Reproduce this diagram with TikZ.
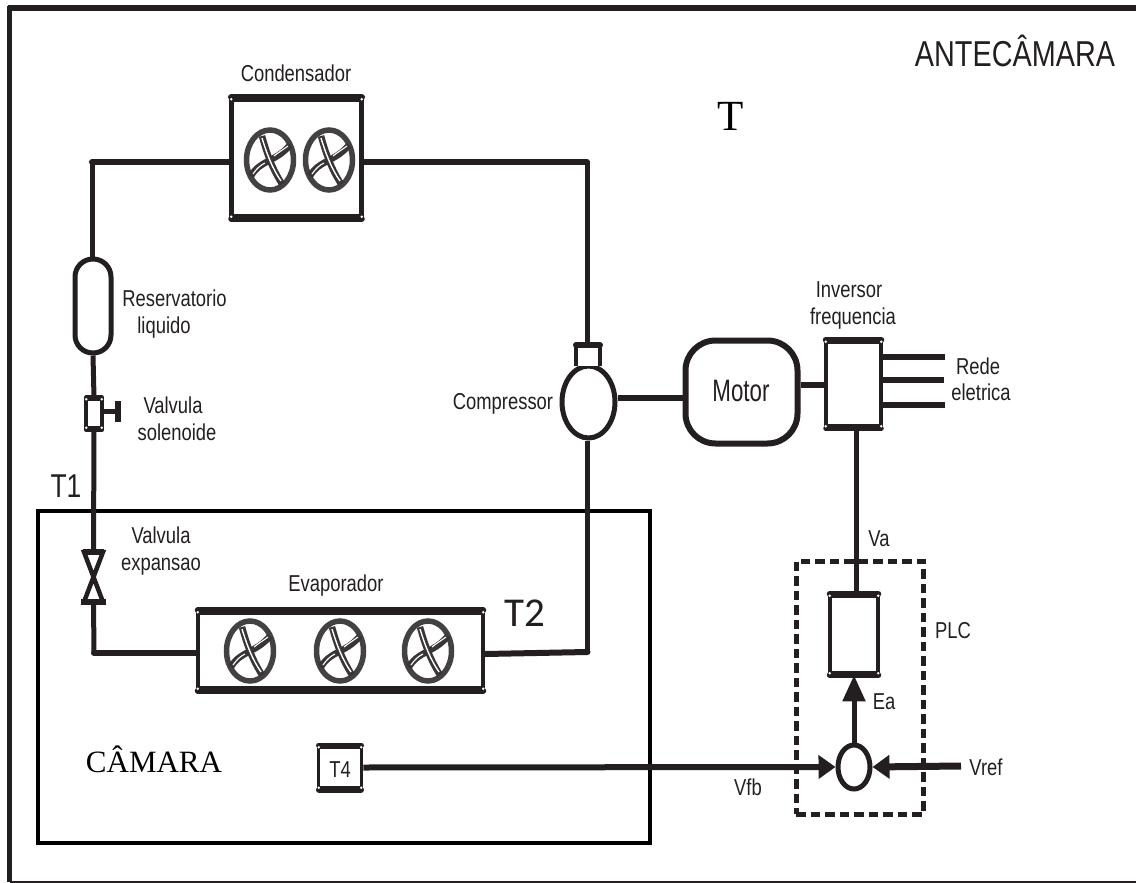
\documentclass[tikz,border=0pt]{standalone}
\usepackage{fontspec}
\setmainfont[FakeStretch=0.80]{Liberation Sans}
\newfontfamily\narrowx[FakeStretch=0.72]{Liberation Sans}
\newfontfamily\serifx{Liberation Serif}
\newfontfamily\carl{Carlito}
\usetikzlibrary{shapes.geometric,arrows.meta,calc}
\definecolor{ink}{HTML}{231F20}
\tikzset{
  pipe/.style={draw=ink,line width=5pt,line cap=butt,line join=round},
  hpipe/.style={draw=ink,line width=6pt,line cap=round},
  wire/.style={draw=ink,line width=6.5pt},
  sidebox/.style={draw=ink,line width=4.5pt,rectangle,inner sep=0pt,fill=white},
  lab/.style={text=ink,font=\fontsize{23}{25}\selectfont,inner sep=0pt,text height=16.5pt,text depth=0pt},
  ghost/.style={rectangle,inner sep=0pt,outer sep=0pt},
  fanring/.style={draw=ink!85,line width=5.5pt,ellipse,inner sep=0pt,minimum width=47pt,minimum height=60pt},
  sumtip/.style={-{Triangle[length=17pt,width=23pt]}},
  uptip/.style={-{Triangle[length=26pt,width=22pt]}}
}
\newcommand{\fanat}[3]{%
  \node[fanring] (#3) at (#1,#2) {};
  \begin{scope}[shift={(#1,#2)}]
    \draw[ink!90,line width=6.5pt] (-8,-24) .. controls (-3,-6) and (2,8) .. (12,24);
    \draw[ink!90,line width=6.5pt] (-19,16) .. controls (-10,0) and (6,2) .. (20,-15);
    \draw[white,line width=1.4pt] (-8,-22) .. controls (-3,-6) and (2,8) .. (11,21);
    \draw[white,line width=1.1pt] (4,-4) .. controls (9,-8) and (14,-11) .. (18,-14);
    \draw[white,line width=1.1pt] (-17,14) .. controls (-13,8) and (-9,5) .. (-5,3);
  \end{scope}}
\newcommand{\rails}[3]{%
  \draw[ink,line width=#2,line cap=round,shorten >=2pt,shorten <=2pt] (#1.north west) -- (#1.north east);
  \draw[ink,line width=#3,line cap=round,shorten >=2pt,shorten <=2pt] (#1.south west) -- (#1.south east);
  \fill[white] ($(#1.north west)+(2,2)$) circle (1.3pt) ($(#1.north east)+(-2,2)$) circle (1.3pt)
    ($(#1.south west)+(2,-2)$) circle (1.3pt) ($(#1.south east)+(-2,-2)$) circle (1.3pt);}
\begin{document}
\begin{tikzpicture}[x=1pt,y=-1pt]
\useasboundingbox (0,0) rectangle (1136,883);
\fill[white] (0,0) rectangle (1136,883);
% outer frame
\draw[ink,line width=4.5pt] (9.5,6) -- (9.5,882);
\draw[ink,line width=6.5pt] (8,8) -- (1136,8);
\draw[ink,line width=2pt] (9.5,882) -- (1136,882);
% chamber
\node[draw=black,line width=4.5pt,rectangle,inner sep=0pt,minimum width=612pt,minimum height=332pt] (camara) at (344,677) {};
% components
\node[sidebox,minimum width=130pt,minimum height=117pt] (cond) at (296.5,158) {};
\node[sidebox,minimum width=285pt,minimum height=76pt] (evap) at (340.5,650.5) {};
\node[rectangle,draw=ink,line width=5pt,rounded corners=17.9pt,inner sep=0pt,fill=white,minimum width=36pt,minimum height=94pt] (res) at (93,306) {};
\node[sidebox,line width=3.5pt,minimum width=16pt,minimum height=29pt] (sol) at (94,413.5) {};
\node[ghost,minimum width=19pt,minimum height=50pt] (expv) at (93.5,577) {};
\node[ellipse,draw=ink,line width=5pt,inner sep=0pt,fill=white,minimum width=53pt,minimum height=72pt] (comp) at (588.5,402) {};
\node[ghost,fill=white,minimum width=24pt,minimum height=21pt] (neck) at (588,355.5) {};
\node[draw=ink,line width=6pt,rectangle,rounded corners=30pt,inner sep=0pt,minimum width=112pt,minimum height=103pt] (motor) at (741.5,392) {};
\node[sidebox,minimum width=55pt,minimum height=84pt] (inv) at (853.5,384) {};
\node[sidebox,minimum width=48pt,minimum height=77pt] (pid) at (854,634.5) {};
\node[ellipse,draw=ink,line width=5pt,inner sep=0pt,fill=white,minimum width=32pt,minimum height=44pt] (sum) at (854,767) {};
\node[sidebox,line width=3.5pt,minimum width=43pt,minimum height=41pt] (tq) at (340,767.5) {};
\node[draw=ink,line width=5pt,dash pattern=on 9.5pt off 5pt,rectangle,inner sep=0pt,minimum width=127pt,minimum height=253pt] (plc) at (859.5,687.5) {};
% neck
\draw[ink,line width=4.5pt] (neck.south west) -- (neck.north west);
\draw[ink,line width=4.5pt] (neck.south east) -- (neck.north east);
\draw[ink,line width=6pt,line cap=round] (neck.north west) -- (neck.north east);
% rails
\rails{cond}{6.5pt}{6pt}
\rails{evap}{6pt}{6pt}
\rails{inv}{6pt}{5pt}
\rails{pid}{6pt}{6pt}
\rails{tq}{5.5pt}{5.5pt}
\rails{sol}{4.5pt}{4.5pt}
% fans
\fanat{270}{160}{fa}
\fanat{329}{160}{fb}
\fanat{250}{651}{fc}
\fanat{340}{651}{fd}
\fanat{428}{651}{fe}
% solenoid handle
\coordinate (hb) at (118,411.5);
\draw[ink,line width=5pt] (sol.east |- hb) -- (hb);
\draw[ink,line width=5.5pt] (118,401) -- (118,422);
% expansion valve
\draw[ink,line width=4.5pt,line join=miter] (expv.north west) -- (expv.south east) -- (expv.south west) -- (expv.north east) -- cycle;
\draw[ink,line width=6pt] ($(expv.north west)+(-1,0)$) -- ($(expv.north east)+(1,0)$);
\draw[ink,line width=6.5pt] ($(expv.south west)+(-3,0)$) -- ($(expv.south east)+(3,0)$);
% pipes
\coordinate (c1) at (92,162);
\coordinate (c2) at (587,162);
\coordinate (c3) at (94,653);
\coordinate (c4) at (587.5,652);
\draw[hpipe] (cond.west |- c1) -- (c1);
\draw[pipe] (c1) -- (res.north -| c1);
\draw[hpipe] (cond.east |- c2) -- (c2);
\draw[pipe] (c2) -- (neck.north -| c2);
\draw[pipe] (res.south) -- (sol.north);
\draw[pipe] (sol.south) -- (expv.north);
\draw[pipe] (expv.south) -- (c3);
\draw[hpipe] (c3) -- (evap.west |- c3);
\draw[hpipe] (evap.east |- 484,654) -- (c4);
\draw[pipe] (c4) -- (comp.south -| c4);
\coordinate (s1) at (650,398);
\draw[wire] (comp.east |- s1) -- (motor.west |- s1);
\coordinate (s2) at (810,385);
\draw[line width=5.5pt,draw=ink] (motor.east |- s2) -- (inv.west |- s2);
% mains
\coordinate (r1) at (945,357);
\coordinate (r2) at (944,380);
\coordinate (r3) at (945,405);
\draw[wire] (inv.east |- r1) -- (r1);
\draw[wire] (inv.east |- r2) -- (r2);
\draw[wire] (inv.east |- r3) -- (r3);
% control
\draw[pipe] (inv.south -| 856,0) -- (pid.north -| 856,0);
\draw[ink,line width=5pt,uptip] (sum.north) -- (pid.south);
\draw[ink,line width=6pt,sumtip] (tq.east) -- (sum.west);
\coordinate (vr) at (961,766);
\draw[ink,line width=7pt,sumtip] (vr) -- (sum.east);
% labels
\node[lab] (tcond) at (296,73) {Condensador};
\node[lab] (tres) at (174.5,298) {Reservatorio};
\node[lab] (tres2) at (164,325) {liquido};
\node[lab] (tsol) at (173,405) {Valvula};
\node[lab] (tsol2) at (177,432) {solenoide};
\node[lab] (texp) at (161,535) {Valvula};
\node[lab] (texp2) at (161,562) {expansao};
\node[lab] (tevap) at (336,583) {Evaporador};
\node[lab] (tcomp) at (503,401) {Compressor};
\node[lab] (tinv) at (849,289) {Inversor};
\node[lab] (tinv2) at (853,316) {frequencia};
\node[lab] (trede) at (978,366) {Rede};
\node[lab] (trede2) at (981,392) {eletrica};
\node[lab] (tva) at (879,538) {Va};
\node[lab] (tplc) at (953,630) {PLC};
\node[lab] (tea) at (884,701) {Ea};
\node[lab] (tvfb) at (748,787) {Vfb};
\node[lab] (tvref) at (986,767) {Vref};
\node[lab] (tfour) at (340,769) {T4};
\node[lab,font=\narrowx\fontsize{31}{33}\selectfont,text height=22pt] (tmotor) at (741,390) {Motor};
\node[lab,font=\fontsize{36}{38}\selectfont,text height=25.5pt] (tante) at (1015,54) {ANTECÂMARA};
\node[lab,font=\fontsize{33}{35}\selectfont,text height=23.5pt] (tt1) at (66,486) {T1};
\node[lab,font=\carl\fontsize{41}{43}\selectfont,text height=26.5pt] (tt2) at (525,613.5) {T2};
\node[lab,font=\serifx\fontsize{43}{45}\selectfont,text=black,text height=28pt] (tt) at (731,116) {T};
\node[lab,font=\serifx\fontsize{31}{33}\selectfont,text=black,text height=20.5pt] (tcam) at (154,762) {CÂMARA};
\end{tikzpicture}
\end{document}
